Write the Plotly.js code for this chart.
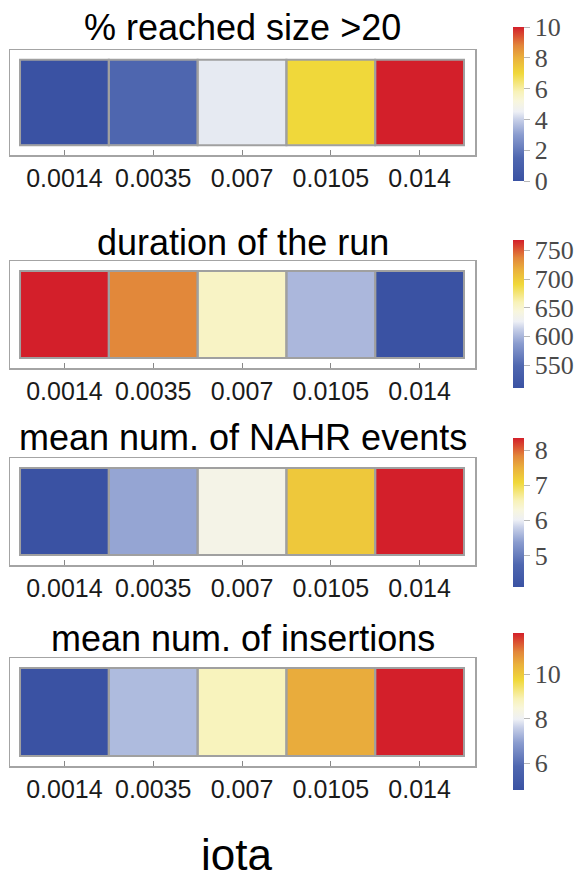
<!DOCTYPE html>
<html>
<head>
<meta charset="utf-8">
<script src="https://cdn.plot.ly/plotly-3.0.1.min.js"></script>
<style>html,body{margin:0;padding:0;background:#fff;}#chart{width:582px;height:878px;}</style>
</head>
<body>
<div id="chart"></div>
<script>
// ---- data ----
const iota = ['0.0014', '0.0035', '0.007', '0.0105', '0.014'];
const titles = ['% reached size >20', 'duration of the run', 'mean num. of NAHR events', 'mean num. of insertions'];
const pctReached = [0, 1.4, 4.4, 7.0, 10];
const duration = [768, 736, 654, 601, 510];
const nahrEvents = [4.1, 5.45, 6.18, 7.25, 8.35];
const insertions = [4.8, 7.33, 8.83, 10.5, 11.85];
const cbTick0 = [0, 550, 5, 6];
const cbDtick = [2, 50, 1, 2];

// ---- styling / layout ----
const W = 582, H = 878;
const series = [pctReached, duration, nahrEvents, insertions];
const frames = [[50, 155], [261, 368], [458, 565], [658, 766]];   // px top/bottom of each panel frame
const cbars = [[26.7, 181], [240, 388], [438, 587], [633, 790]];  // px top/bottom of each colorbar
const titleY = [28, 242, 437, 638];
const frameX = [10, 475];
const padX = [0.113, 0.124], padY = 0.115;

const cscale = [
  [0.00, '#3a52a3'], [0.15, '#4f67b0'], [0.30, '#8a9ccf'], [0.40, '#c8d0e8'],
  [0.45, '#eef0f5'], [0.52, '#f8f6dc'], [0.58, '#f8f2b8'], [0.70, '#f0d83a'],
  [0.80, '#eab03c'], [0.88, '#e2863a'], [1.00, '#d31f2a']
];
const frameColor = '#a4a4a4';
const serif = '"Liberation Serif", "DejaVu Serif", serif';
const sans = '"Liberation Sans", Arial, sans-serif';
const idx = iota.map((_, i) => i);

const traces = [];
const layout = {
  width: W, height: H, margin: {l: 0, r: 0, t: 0, b: 0},
  paper_bgcolor: '#fff', plot_bgcolor: '#fff', showlegend: false,
  font: {family: serif, size: 24, color: '#454545'},
  annotations: [], shapes: []
};

series.forEach((vals, k) => {
  const n = k + 1;
  const xa = 'x' + (n === 1 ? '' : n), ya = 'y' + (n === 1 ? '' : n);
  const [ft, fb] = frames[k];
  const [ct, cb] = cbars[k];
  traces.push({
    type: 'heatmap', x: idx, y: [0], z: [vals],
    xaxis: xa, yaxis: ya, colorscale: cscale,
    zmin: Math.min(...vals), zmax: Math.max(...vals),
    hoverinfo: 'skip',
    colorbar: {
      x: 513 / W, xanchor: 'left', xpad: 0,
      y: 1 - cb / H, yanchor: 'bottom', ypad: 0,
      len: (cb - ct) / H, lenmode: 'fraction',
      thickness: 11, thicknessmode: 'pixels',
      outlinewidth: 0, borderwidth: 0,
      ticks: 'outside', ticklen: 6, tickwidth: 1, tickcolor: '#b8b8b8',
      tick0: cbTick0[k], dtick: cbDtick[k], tickmode: 'linear',
      tickfont: {family: serif, size: 26, color: '#4a4a4a'}
    }
  });
  const axKey = n === 1 ? '' : n;
  layout['xaxis' + axKey] = {
    domain: [frameX[0] / W, frameX[1] / W], anchor: ya,
    range: [-0.5 - padX[0], idx.length - 0.5 + padX[1]],
    tickmode: 'array', tickvals: idx, ticktext: iota,
    ticks: 'inside', ticklen: 5, tickwidth: 1, tickcolor: '#888',
    showline: true, mirror: true, linecolor: frameColor, linewidth: 1.5,
    showgrid: false, zeroline: false, fixedrange: true,
    tickfont: {family: sans, size: 25, color: '#1a1a1a'}
  };
  layout['yaxis' + axKey] = {
    domain: [1 - fb / H, 1 - ft / H], anchor: xa,
    range: [-0.5 - padY, 0.5 + padY],
    showticklabels: false, ticks: '',
    showline: true, mirror: true, linecolor: frameColor, linewidth: 1.5,
    showgrid: false, zeroline: false, fixedrange: true
  };
  idx.forEach(i => {
    layout.shapes.push({
      type: 'rect', xref: xa, yref: ya, x0: i - 0.5, x1: i + 0.5, y0: -0.5, y1: 0.5,
      line: {color: '#a0a0a0', width: 2}, fillcolor: 'rgba(0,0,0,0)', layer: 'above'
    });
  });
  layout.annotations.push({
    text: titles[k], xref: 'paper', yref: 'paper',
    x: (frameX[0] + frameX[1]) / 2 / W, y: 1 - titleY[k] / H,
    xanchor: 'center', yanchor: 'middle', showarrow: false,
    font: {family: sans, size: 36, color: '#000'}
  });
});

layout.annotations.push({
  text: 'iota', xref: 'paper', yref: 'paper', x: 236 / W, y: 1 - 854 / H,
  xanchor: 'center', yanchor: 'middle', showarrow: false,
  font: {family: sans, size: 44, color: '#000'}
});

Plotly.newPlot('chart', traces, layout, {staticPlot: true, displayModeBar: false});
</script>
</body>
</html>
